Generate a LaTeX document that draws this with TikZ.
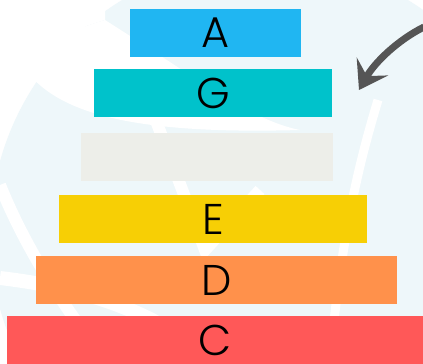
\documentclass[tikz,border=0pt]{standalone}
\usepackage{fontspec}
\setmainfont{Poppins Light}
\usetikzlibrary{arrows.meta}
\definecolor{cA}{HTML}{20B6F2}
\definecolor{cG}{HTML}{00C2CB}
\definecolor{cB}{HTML}{EDEEE9}
\definecolor{cE}{HTML}{F7CF05}
\definecolor{cD}{HTML}{FF914B}
\definecolor{cC}{HTML}{FF5858}
\definecolor{wm}{HTML}{EEF7FA}
\definecolor{arrowgray}{HTML}{555555}
\tikzset{
  bar/.style={draw=none, inner sep=0pt, outer sep=0pt, font=\fontsize{43}{43}\selectfont, text=black},
}
\begin{document}
\begin{tikzpicture}[x=1pt,y=-1pt]
\useasboundingbox (0,0) rectangle (423,364);
\fill[white] (0,0) rectangle (423,364);
% faint watermark
\begin{scope}
\clip (0,0) rectangle (423,364);
\fill[wm] (265,235) circle (275);
\fill[white] (20,62) .. controls (50,110) and (120,135) .. (300,130)
  .. controls (250,120) and (200,80) .. (105,20) .. controls (70,30) and (40,45) .. (20,62) -- cycle;
\fill[white] (0,0) -- (105,0) -- (105,20) .. controls (70,30) and (40,45) .. (20,62) -- (0,70) -- cycle;
\draw[white, line width=12pt] (155,118) -- (205,250) -- (260,190);
\draw[white, line width=9pt] (378,100) .. controls (360,160) and (345,220) .. (333,330);
\draw[white, line width=14pt] (0,278) .. controls (60,285) and (120,300) .. (170,330);
\draw[white, line width=12pt] (0,185) .. controls (30,260) and (80,330) .. (110,364);
\end{scope}
% bars
\node[bar, fill=cA, minimum width=171pt, minimum height=48pt] (a) at (215.5,33) {A};
\node[bar, fill=cG, minimum width=238pt, minimum height=48pt] (g) at (213,93) {G};
\node[bar, fill=cB, minimum width=252pt, minimum height=48pt] (b) at (207,157) {};
\node[bar, fill=cE, minimum width=308pt, minimum height=48pt] (e) at (213,219) {E};
\node[bar, fill=cD, minimum width=361pt, minimum height=48pt] (d) at (216.5,280) {D};
\node[bar, fill=cC, minimum width=416pt, minimum height=48pt] (c) at (215,340) {C};
% arrow
\coordinate (s) at (424,27);
\coordinate (t) at (359,90);
\draw[arrowgray, line width=7pt, -{Stealth[length=27pt, width=36pt, inset=11pt]}]
  (s) .. controls (398,40) and (375,62) .. (t);
\end{tikzpicture}
\end{document}
